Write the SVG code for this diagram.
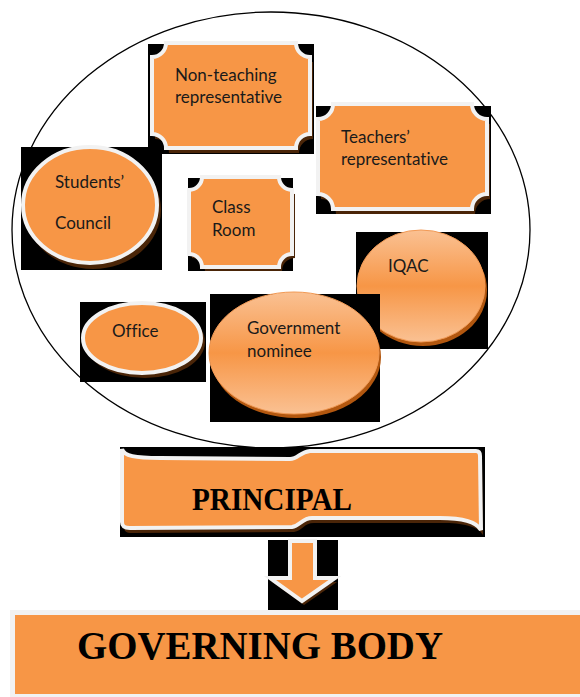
<svg xmlns="http://www.w3.org/2000/svg" width="580" height="697" viewBox="0 0 580 697">
<defs>
<style>
.bg{fill:#000}
.sh{fill:#4a2508}
.sh2{fill:#b2570f}
.fill{fill:#F79646;stroke:#F2F2F2;stroke-width:4}
.gfill{fill:url(#g);stroke:#F29A55;stroke-width:1}
.lbl{font-family:Lato,"Liberation Sans",sans-serif;font-size:17px;fill:#1a1a1a;font-variant-ligatures:none;font-feature-settings:"liga" 0}
.big{font-family:"Liberation Serif","Times New Roman",serif;font-weight:bold;fill:#000}
</style>
<linearGradient id="g" x1="0" y1="0" x2="0" y2="1">
<stop offset="0" stop-color="#FAC193"/>
<stop offset="0.5" stop-color="#F79646"/>
<stop offset="1" stop-color="#FAC193"/>
</linearGradient>
</defs>
<rect width="580" height="697" fill="#fff"/>
<ellipse id="boundary" cx="271" cy="230" rx="259" ry="218" fill="none" stroke="#000" stroke-width="1.3"/>

<g id="non-teaching">
<rect class="bg" x="148" y="44" width="166" height="110"/>
<path class="sh" transform="translate(3,5)" d="M166,43 L296,43 A14,14 0 0 0 310,57 L310,134 A14,14 0 0 0 296,148 L166,148 A14,14 0 0 0 152,134 L152,57 A14,14 0 0 0 166,43 Z"/>
<path class="fill" d="M166,43 L296,43 A14,14 0 0 0 310,57 L310,134 A14,14 0 0 0 296,148 L166,148 A14,14 0 0 0 152,134 L152,57 A14,14 0 0 0 166,43 Z"/>
<text class="lbl" x="175" y="81">Non-teaching</text>
<text class="lbl" x="175" y="103">representative</text>
</g>

<g id="teachers">
<rect class="bg" x="316" y="106" width="175" height="108"/>
<path class="sh" transform="translate(3,5)" d="M333,104 L472,104 A15,15 0 0 0 487,119 L487,194 A15,15 0 0 0 472,209 L333,209 A15,15 0 0 0 318,194 L318,119 A15,15 0 0 0 333,104 Z"/>
<path class="fill" d="M333,104 L472,104 A15,15 0 0 0 487,119 L487,194 A15,15 0 0 0 472,209 L333,209 A15,15 0 0 0 318,194 L318,119 A15,15 0 0 0 333,104 Z"/>
<text class="lbl" x="341" y="143">Teachers’</text>
<text class="lbl" x="341" y="165">representative</text>
</g>

<g id="students">
<rect class="bg" x="21" y="147" width="141" height="123"/>
<ellipse class="sh" cx="93" cy="210" rx="68" ry="59"/>
<ellipse class="fill" cx="90" cy="205" rx="67" ry="58"/>
<text class="lbl" x="55" y="188">Students’</text>
<text class="lbl" x="55" y="229">Council</text>
</g>

<g id="classroom">
<rect class="bg" x="188" y="178" width="105" height="93"/>
<path class="sh" transform="translate(3,4)" d="M202,177 L279,177 A13,13 0 0 0 292,190 L292,254 A13,13 0 0 0 279,267 L202,267 A13,13 0 0 0 189,254 L189,190 A13,13 0 0 0 202,177 Z"/>
<path class="fill" d="M202,177 L279,177 A13,13 0 0 0 292,190 L292,254 A13,13 0 0 0 279,267 L202,267 A13,13 0 0 0 189,254 L189,190 A13,13 0 0 0 202,177 Z"/>
<text class="lbl" x="212" y="213">Class</text>
<text class="lbl" x="212" y="236">Room</text>
</g>

<g id="iqac">
<rect class="bg" x="356" y="232" width="132" height="117"/>
<ellipse class="sh2" cx="423" cy="290" rx="64" ry="56"/>
<ellipse class="gfill" cx="421" cy="286" rx="64" ry="56"/>
<text class="lbl" x="388" y="272">IQAC</text>
</g>

<g id="office">
<rect class="bg" x="80" y="302" width="126" height="80"/>
<ellipse class="sh" cx="145" cy="342" rx="60" ry="36"/>
<ellipse class="fill" cx="142" cy="338" rx="59" ry="35"/>
<text class="lbl" x="112" y="337">Office</text>
</g>

<g id="government">
<rect class="bg" x="210" y="294" width="170" height="128"/>
<ellipse class="sh2" cx="296" cy="357" rx="85" ry="61"/>
<ellipse class="gfill" cx="294" cy="353" rx="85" ry="61"/>
<text class="lbl" x="247" y="334">Government</text>
<text class="lbl" x="247" y="357">nominee</text>
</g>

<g id="principal">
<rect class="bg" x="120" y="447" width="365" height="90"/>
<path class="sh" transform="translate(2,5)" d="M122,449 C124,456 135,458 160,458 L290,459 C298,459 300,452 310,451 L476,451 C479,451 480,453 480,456 L481,530 C476,521 460,518 440,518 L312,518 C302,518 300,526 292,527 L130,528 C124,528 122,526 122,522 Z"/>
<path class="fill" d="M122,449 C124,456 135,458 160,458 L290,459 C298,459 300,452 310,451 L476,451 C479,451 480,453 480,456 L481,530 C476,521 460,518 440,518 L312,518 C302,518 300,526 292,527 L130,528 C124,528 122,526 122,522 Z"/>
<text class="big" x="192" y="510" font-size="32" textLength="160" lengthAdjust="spacingAndGlyphs">PRINCIPAL</text>
</g>

<g id="connectors">
<rect class="bg" x="268" y="540" width="70" height="70"/>
<path class="sh" transform="translate(2,4)" d="M290,541 L315,541 L315,578 L335,578 L302,601 L270,578 L290,578 Z"/>
<path class="fill" stroke-width="3" d="M290,541 L315,541 L315,578 L335,578 L302,601 L270,578 L290,578 Z"/>
</g>

<g id="governing-body">
<rect x="10" y="610" width="580" height="90" fill="#F2F2F2"/>
<rect x="15" y="615" width="575" height="79" fill="#F79646"/>
<text class="big" x="77" y="659" font-size="41" textLength="366" lengthAdjust="spacingAndGlyphs">GOVERNING BODY</text>
</g>
</svg>
